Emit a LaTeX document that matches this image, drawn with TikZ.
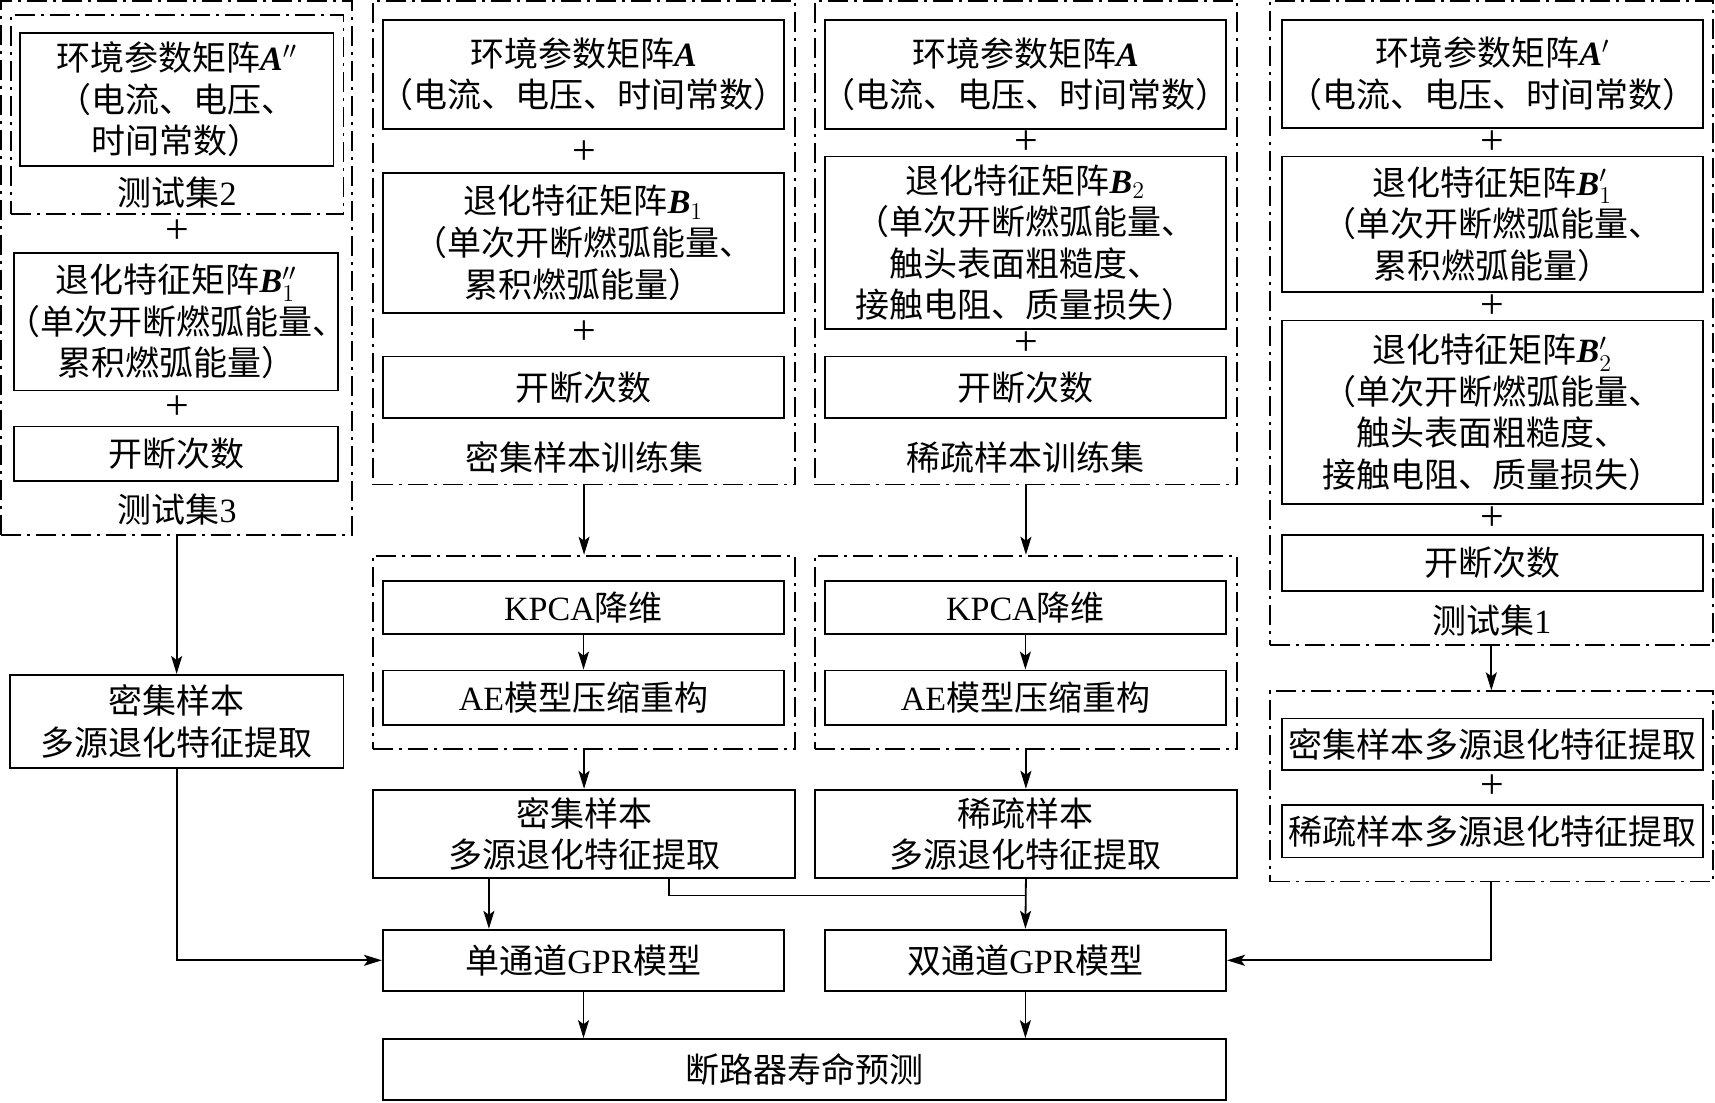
\documentclass[tikz,border=0pt]{standalone}
\usepackage{fontspec}
\setmainfont{Liberation Serif}
\newfontfamily\cjk{Noto Sans CJK SC}
\usetikzlibrary{arrows.meta,fit,calc}

\newcommand{\mtx}[1]{{\rmfamily\bfseries\itshape #1}}
\newcommand{\latn}[1]{{\rmfamily #1}}

\tikzset{
box/.style={draw, line width=0.9pt, inner sep=0pt},
grp/.style={draw, line width=0.9pt, inner sep=0pt,
  dash pattern=on 10pt off 3pt on 1.5pt off 3pt},
lbl/.style={inner sep=0pt},
every label/.style={align=center, inner sep=0pt},
plus/.style={inner sep=0pt, font=\rmfamily\fontsize{21}{21}\selectfont},
arr/.style={line width=0.9pt, -{Stealth[length=9pt,width=5.5pt,inset=2pt]}},
ln/.style={line width=0.9pt}
}

\begin{document}
\begin{tikzpicture}[x=0.547pt, y=-0.547pt,
  font=\cjk\fontsize{17}{20.8}\selectfont]

\useasboundingbox (0,0) rectangle (1568,1008);

% Test set 3
\node[grp, fit={(1,1) (322,489)}] (T3) {};
\node[grp, fit={(10,14) (314,196)}] (T2) {};
\node[box, fit={(18,30) (305,152)},
  label={center:环境参数矩阵\mtx{A}$''$\\（电流、电压、\\时间常数）}] (A3) {};
\node[lbl] (L2) at (162,176) {测试集\latn{2}};
\node[plus] (p31) at (162,212) {+};
\node[box, fit={(13,231) (309,357)},
  label={center:退化特征矩阵\mtx{B}${}''_1$\\（单次开断燃弧能量、\\累积燃弧能量）}] (B3) {};
\node[plus] (p32) at (162,373) {+};
\node[box, fit={(13,390) (309,440)}, label={center:开断次数}] (N3) {};
\node[lbl] (L3) at (162,466) {测试集\latn{3}};

\node[box, fit={(9,617) (314,702)},
  label={center:密集样本\\多源退化特征提取}] (D1) {};

% Dense training set
\node[grp, fit={(341,1) (727,443)}] (TR1) {};
\node[box, fit={(350,18) (717,118)},
  label={center:环境参数矩阵\mtx{A}\\（电流、电压、时间常数）}] (A1) {};
\node[plus] (p11) at (534,140) {+};
\node[box, fit={(350,158) (717,286)},
  label={center:退化特征矩阵\mtx{B}$_1$\\（单次开断燃弧能量、\\累积燃弧能量）}] (B1) {};
\node[plus] (p12) at (534,304) {+};
\node[box, fit={(350,326) (717,382)}, label={center:开断次数}] (N1) {};
\node[lbl] (LT1) at (534,418) {密集样本训练集};

\node[grp, fit={(341,508) (727,685)}] (KD1) {};
\node[box, fit={(350,531) (717,580)}, label={center:\latn{KPCA}降维}] (K1) {};
\node[box, fit={(350,613) (717,663)}, label={center:\latn{AE}模型压缩重构}] (AE1) {};
\node[box, fit={(341,722) (727,803)},
  label={center:密集样本\\多源退化特征提取}] (F1) {};
\node[box, fit={(350,850) (717,906)}, label={center:单通道\latn{GPR}模型}] (S1) {};

% Sparse training set
\node[grp, fit={(745,1) (1131,443)}] (TR2) {};
\node[box, fit={(754,18) (1121,118)},
  label={center:环境参数矩阵\mtx{A}\\（电流、电压、时间常数）}] (A2) {};
\node[plus] (p21) at (938,130) {+};
\node[box, fit={(754,143) (1121,301)},
  label={center:退化特征矩阵\mtx{B}$_2$\\（单次开断燃弧能量、\\触头表面粗糙度、\\接触电阻、质量损失）}] (B2) {};
\node[plus] (p22) at (938,314) {+};
\node[box, fit={(754,326) (1121,382)}, label={center:开断次数}] (N2) {};
\node[lbl] (LT2) at (938,418) {稀疏样本训练集};

\node[grp, fit={(745,508) (1131,685)}] (KD2) {};
\node[box, fit={(754,531) (1121,580)}, label={center:\latn{KPCA}降维}] (K2) {};
\node[box, fit={(754,613) (1121,663)}, label={center:\latn{AE}模型压缩重构}] (AE2) {};
\node[box, fit={(745,722) (1131,803)},
  label={center:稀疏样本\\多源退化特征提取}] (F2) {};
\node[box, fit={(754,850) (1121,906)}, label={center:双通道\latn{GPR}模型}] (S2) {};

\node[box, fit={(350,950) (1121,1006)}, label={center:断路器寿命预测}] (P) {};

% Test set 1
\node[grp, fit={(1161,1) (1566,590)}] (T1) {};
\node[box, fit={(1172,18) (1557,117)},
  label={center:环境参数矩阵\mtx{A}$'$\\（电流、电压、时间常数）}] (A4) {};
\node[plus] (p41) at (1364,130) {+};
\node[box, fit={(1172,143) (1557,267)},
  label={center:退化特征矩阵\mtx{B}${}'_1$\\（单次开断燃弧能量、\\累积燃弧能量）}] (B41) {};
\node[plus] (p42) at (1364,280) {+};
\node[box, fit={(1172,293) (1557,461)},
  label={center:退化特征矩阵\mtx{B}${}'_2$\\（单次开断燃弧能量、\\触头表面粗糙度、\\接触电阻、质量损失）}] (B42) {};
\node[plus] (p43) at (1364,474) {+};
\node[box, fit={(1172,489) (1557,540)}, label={center:开断次数}] (N4) {};
\node[lbl] (L1) at (1364,567) {测试集\latn{1}};

\node[grp, fit={(1161,632) (1566,806)}] (ED) {};
\node[box, fit={(1172,657) (1557,704)}, label={center:密集样本多源退化特征提取}] (E1) {};
\node[plus] (p44) at (1364,719) {+};
\node[box, fit={(1172,736) (1557,784)}, label={center:稀疏样本多源退化特征提取}] (E2) {};

% Connectors
\draw[arr] (T3.south) -- (T3.south |- D1.north);
\draw[arr] (D1.south) |- (S1.west);

\draw[arr] (TR1.south) -- (KD1.north);
\draw[arr] (K1) -- (AE1);
\draw[arr] (KD1.south) -- (F1.north);
\coordinate (c1) at (447,803);
\draw[arr] (c1) -- (c1 |- S1.north);
\coordinate (c2) at (612,803);
\draw[ln] (c2) |- ($(F2.south)+(0,15)$);

\draw[arr] (TR2.south) -- (KD2.north);
\draw[arr] (K2) -- (AE2);
\draw[arr] (KD2.south) -- (F2.north);
\draw[arr] (F2.south) -- (S2.north);

\draw[arr] (S1.south) -- (S1.south |- P.north);
\draw[arr] (S2.south) -- (S2.south |- P.north);

\draw[arr] (T1.south) -- (ED.north);
\draw[arr] (ED.south) |- (S2.east);

\end{tikzpicture}
\end{document}
